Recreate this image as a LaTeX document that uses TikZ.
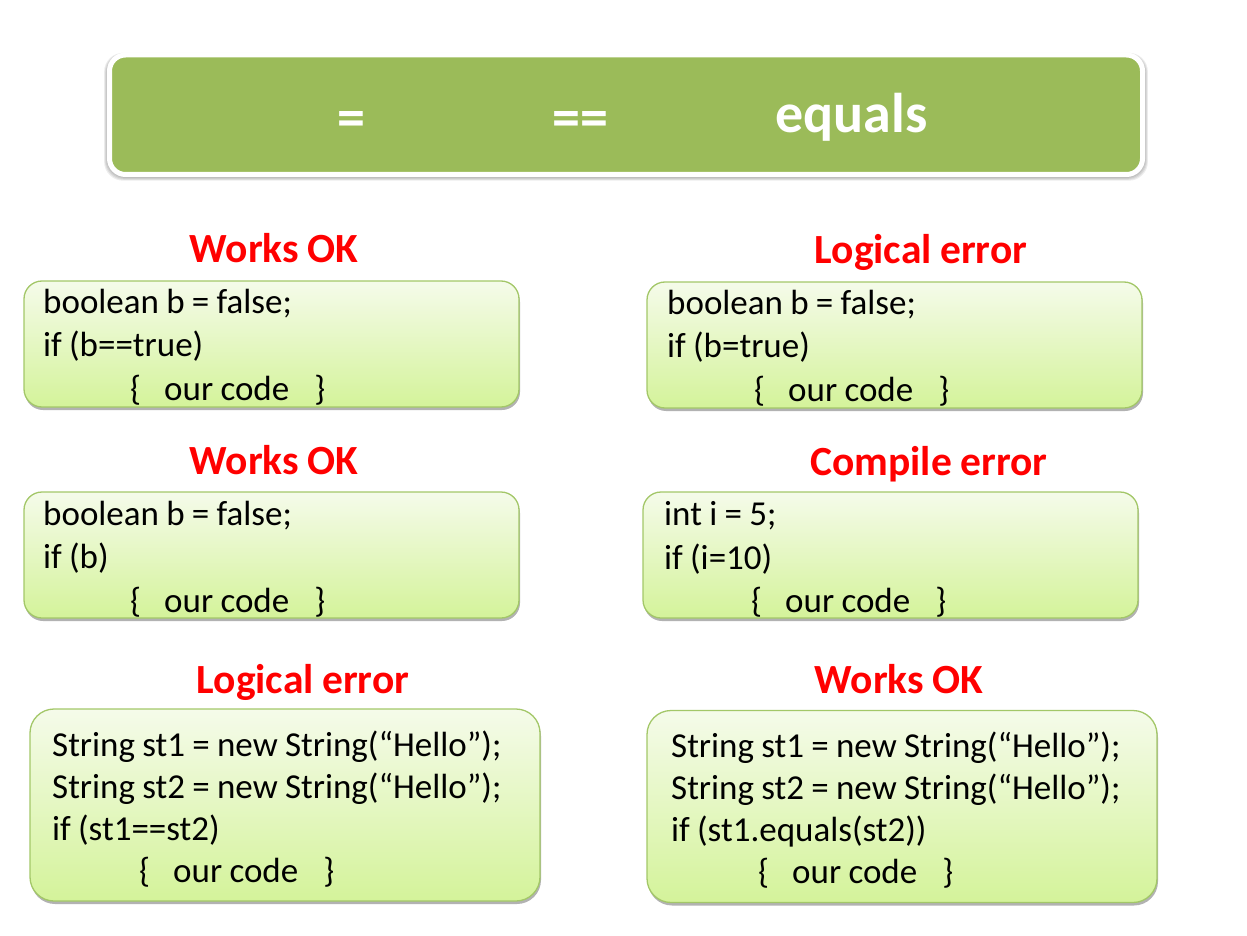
\documentclass[tikz,border=0pt]{standalone}
\usepackage{fontspec}
\setmainfont{Carlito}[WordSpace=0.92]
\usetikzlibrary{shadows}

\definecolor{bannergreen}{HTML}{9BBB59}
\definecolor{boxline}{HTML}{A3C768}
\definecolor{boxtop}{HTML}{F5FBEA}
\definecolor{boxbottom}{HTML}{D4F39A}
\definecolor{labelred}{HTML}{FF0000}

\newcommand{\ourcode}{\hspace*{87pt}\{\hspace{23pt}our code\hspace{25pt}\}}

\tikzset{
  bannerhalo/.style={fill=black, rounded corners=19pt, draw=none},
  banner/.style={draw=white, line width=5pt, fill=bannergreen, rounded corners=16pt},
  bannertext/.style={text=white, font=\fontsize{56}{60}\selectfont\bfseries, anchor=base, inner sep=0pt},
  codebox/.style={draw=boxline, line width=1.3pt, top color=boxtop, bottom color=boxbottom,
    drop shadow={shadow xshift=1pt, shadow yshift=-3pt, opacity=0.3, fill=black}},
  smallbox/.style={codebox, rounded corners=18pt, minimum width=495pt, minimum height=126pt},
  bigbox/.style={codebox, rounded corners=24pt, minimum width=510pt, minimum height=192pt},
  codetext/.style={anchor=base west, inner sep=0pt, font=\fontsize{35}{43.5}\selectfont},
  bigtext/.style={codetext, font=\fontsize{35}{42}\selectfont},
  verdict/.style={text=labelred, font=\fontsize{41.5}{44}\selectfont\bfseries, anchor=base, inner sep=0pt}
}

\newcommand{\codelines}[1]{\parbox[t]{500pt}{\raggedright #1}}

\begin{document}
\begin{tikzpicture}[x=1pt, y=-1pt]
\useasboundingbox (0,0) rectangle (1247,936);

% title banner with a soft shadow under its white rim
\foreach \g in {0,1,2,3} {
  \fill[bannerhalo, opacity=0.07]
    (106.5-\g*0.8, 54-\g*0.4) rectangle (1145.5+\g*0.8, 178+\g*0.9);
}
\node[banner, minimum width=1033pt, minimum height=119.5pt] (title) at (626,114.75) {};
\node[bannertext] (assign) at (351,137) {=};
\node[bannertext] (compare) at (580.5,137) {==};
\node[bannertext] (equalsm) at (851.5,133) {equals};

% verdicts
\node[verdict] (v1) at (274,262.5) {Works OK};
\node[verdict] (v2) at (921,263.5) {Logical error};
\node[verdict] (v3) at (274,474.5) {Works OK};
\node[verdict] (v4) at (929,475.5) {Compile error};
\node[verdict] (v5) at (303,693.5) {Logical error};
\node[verdict] (v6) at (899,693.5) {Works OK};

% code boxes
\node[smallbox] (c1) at (271.5,344) {};
\node[smallbox] (c2) at (894.5,345) {};
\node[smallbox] (c3) at (271.5,555) {};
\node[smallbox] (c4) at (890.5,555) {};
\node[bigbox] (c5) at (285,805) {};
\node[bigbox] (c6) at (902,806.5) {};

% code text
\node[codetext] (t1) at (43,313) {\codelines{boolean b = false;\\ if (b==true)\\ \ourcode}};
\node[codetext] (t2) at (667,314) {\codelines{boolean b = false;\\ if (b=true)\\ \ourcode}};
\node[codetext] (t3) at (43,525) {\codelines{boolean b = false;\\ if (b)\\ \ourcode}};
\node[codetext] (t4) at (664,525.5) {\codelines{int i = 5;\\ if (i=10)\\ \ourcode}};
\node[bigtext] (t5) at (52,756) {\codelines{String st1 = new String(“Hello”);\\
  String st2 = new String(“Hello”);\\ if (st1==st2)\\ \ourcode}};
\node[bigtext] (t6) at (671,757) {\codelines{String st1 = new String(“Hello”);\\
  String st2 = new String(“Hello”);\\ if (st1.equals(st2))\\ \ourcode}};
\end{tikzpicture}
\end{document}
